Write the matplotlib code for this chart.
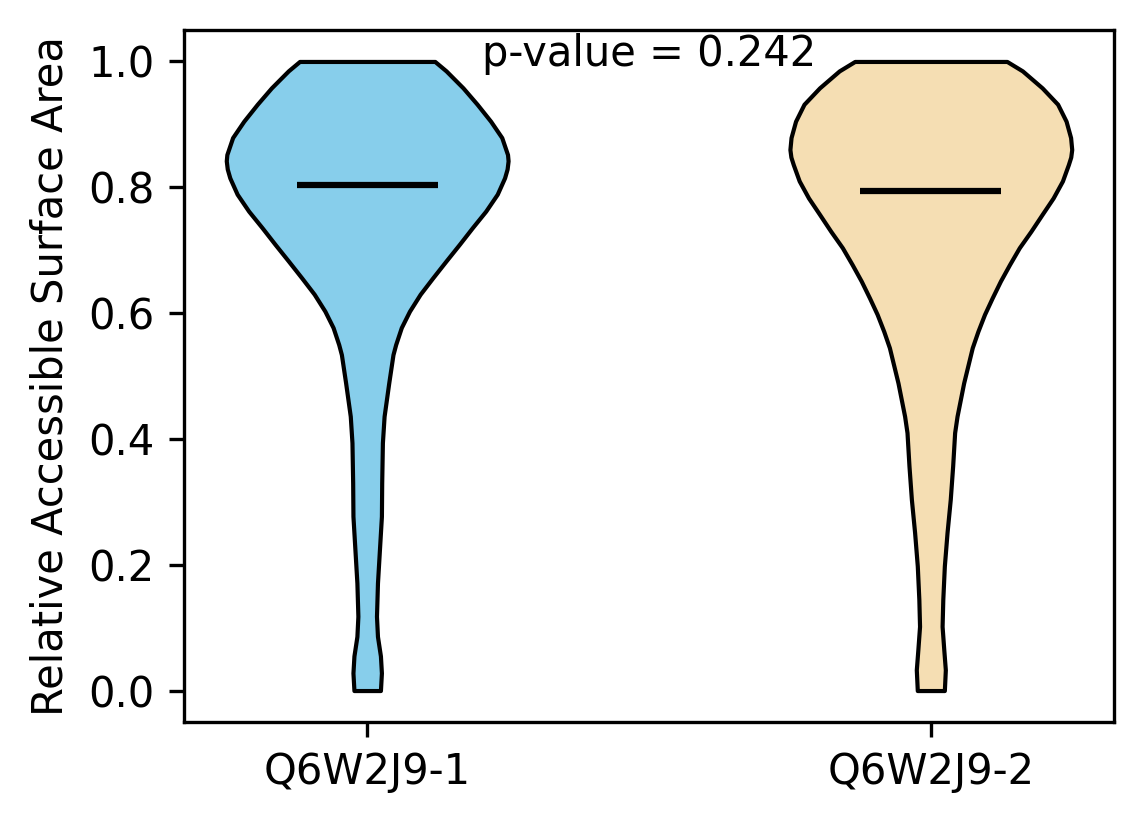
import numpy as np
import matplotlib
matplotlib.use('Agg')
import matplotlib.pyplot as plt

labels = ['Q6W2J9-1', 'Q6W2J9-2']
colors = ['skyblue', 'wheat']
p_value = 0.242

# density profile: RSA value -> relative half width
rsa_1 = [0.000, 0.028, 0.055, 0.086, 0.118, 0.171, 0.224, 0.277, 0.330, 0.394,
         0.436, 0.489, 0.534, 0.550, 0.577, 0.603, 0.630, 0.656, 0.683, 0.709,
         0.736, 0.762, 0.789, 0.815, 0.829, 0.842, 0.852, 0.879, 0.905, 0.932,
         0.958, 0.985, 1.000]
dens_1 = [0.094, 0.101, 0.094, 0.073, 0.066, 0.073, 0.087, 0.101, 0.103, 0.108,
          0.120, 0.153, 0.183, 0.202, 0.242, 0.300, 0.376, 0.465, 0.560, 0.653,
          0.747, 0.841, 0.923, 0.975, 0.993, 1.000, 0.996, 0.955, 0.876, 0.780,
          0.680, 0.560, 0.480]

rsa_2 = [0.000, 0.033, 0.065, 0.102, 0.145, 0.198, 0.251, 0.304, 0.357, 0.410,
         0.436, 0.489, 0.545, 0.571, 0.598, 0.624, 0.651, 0.677, 0.704, 0.730,
         0.757, 0.783, 0.810, 0.836, 0.848, 0.860, 0.879, 0.905, 0.932, 0.958,
         0.985, 1.000]
dens_2 = [0.096, 0.103, 0.092, 0.080, 0.085, 0.096, 0.115, 0.138, 0.155, 0.169,
          0.186, 0.233, 0.294, 0.334, 0.381, 0.435, 0.494, 0.558, 0.628, 0.710,
          0.790, 0.868, 0.934, 0.976, 0.993, 1.000, 0.992, 0.960, 0.900, 0.790,
          0.650, 0.540]

medians = [0.803, 0.794]

stats = []
for coords, vals, med in [(rsa_1, dens_1, medians[0]), (rsa_2, dens_2, medians[1])]:
    stats.append({'coords': np.array(coords), 'vals': np.array(vals),
                  'mean': med, 'median': med,
                  'min': min(coords), 'max': max(coords)})

fig = plt.figure(figsize=(11.44 / 3, 8.24 / 3), dpi=300)
ax = fig.add_axes([184 / 1144, 1 - 722 / 824, 930 / 1144, 692 / 824])

parts = ax.violin(stats, positions=[1, 2], widths=0.5,
                  showmedians=True, showextrema=False)
for body, c in zip(parts['bodies'], colors):
    body.set_facecolor(c)
    body.set_edgecolor('black')
    body.set_linewidth(1)
    body.set_alpha(1)
parts['cmedians'].set_color('black')
parts['cmedians'].set_linewidth(1.5)

ax.set_xticks([1, 2])
ax.set_xticklabels(labels)
ax.set_ylabel('Relative Accessible Surface Area')
ax.text(1.5, 0.978, f'p-value = {p_value:.3f}', ha='center', va='bottom')

fig.savefig('out.png', dpi=300)
